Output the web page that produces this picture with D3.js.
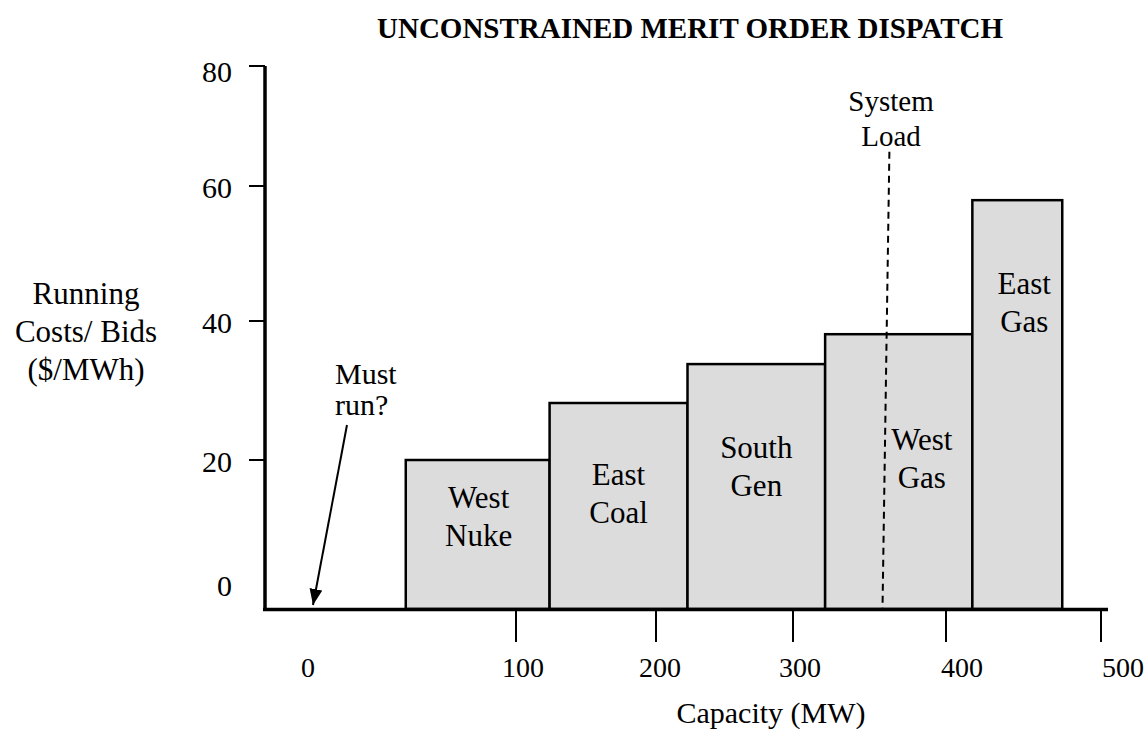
<!DOCTYPE html>
<html><head><meta charset="utf-8">
<script src="https://cdn.jsdelivr.net/npm/d3@7"></script>
<style>
body{margin:0;background:#fff}
svg{display:block}
text{font-family:"Liberation Serif","Times New Roman",serif;fill:#000}
</style>
</head><body>
<svg id="chart" width="1147" height="733"></svg>
<script>
// ---- data ----
const plants = ["West Nuke", "East Coal", "South Gen", "West Gas", "East Gas"];
const capStart = [47, 124, 223, 321, 417];      // MW
const capEnd = [124, 223, 321, 417, 475];       // MW
const bids = [20, 28.2, 33.8, 38.1, 57.9];      // $/MWh
const xTickValues = [100, 200, 300, 400, 500];
const xTickLabels = ["0", "100", "200", "300", "400", "500"];
const yTickValues = [20, 40, 60, 80];
const yTickLabels = ["0", "20", "40", "60", "80"];
const systemLoadMW = [363, 358.5];   // top, bottom of the (hand-drawn) load line
const systemLoadTop = 65.7;
const mustRunMW = 0;

// ---- layout ----
const svg = d3.select("#chart");
const x = d3.scaleLinear().domain([0, 100, 200, 300, 400, 500]).range([308, 516, 656, 793, 946, 1101]);
const y = d3.scaleLinear().domain([0, 20, 40, 60, 80]).range([609, 460, 321, 186, 66]);
const xLabelShift = [0, 7, 4, 7, 16, 22];
const labelOffsets = [[1, 37], [0, 71], [0, 83], [23, 105], [7, 83]]; // px from bar top-center
const axisY = 609.5, axisX = 265;
const FS = 30;

// title
svg.append("text").attr("x", 690).attr("y", 28).attr("dy", "0.35em")
  .attr("text-anchor", "middle").attr("font-weight", "bold").attr("font-size", 29)
  .text("UNCONSTRAINED MERIT ORDER DISPATCH");

// bars
const data = plants.map((p, i) => ({ p, s: capStart[i], e: capEnd[i], v: bids[i], off: labelOffsets[i] }));
svg.append("g").selectAll("rect").data(data).join("rect")
  .attr("x", d => x(d.s)).attr("y", d => y(d.v))
  .attr("width", d => x(d.e) - x(d.s)).attr("height", d => y(0) - y(d.v))
  .attr("fill", "#dcdcdc").attr("stroke", "#000").attr("stroke-width", 2.5);

// system load dashed line
svg.append("line")
  .attr("x1", x(systemLoadMW[0])).attr("x2", x(systemLoadMW[1]))
  .attr("y1", y(systemLoadTop)).attr("y2", y(0))
  .attr("stroke", "#000").attr("stroke-width", 2).attr("stroke-dasharray", "7,5");

// bar labels
const lg = svg.append("g");
data.forEach(d => {
  const cx = (x(d.s) + x(d.e)) / 2 + d.off[0];
  const cy = y(d.v) + d.off[1];
  d.p.split(" ").forEach((w, j) => {
    lg.append("text").attr("x", cx).attr("y", cy + j * 38).attr("dy", "0.35em")
      .attr("text-anchor", "middle").attr("font-size", 31).text(w);
  });
});

// axes lines
svg.append("line").attr("x1", axisX).attr("x2", axisX).attr("y1", y(80)).attr("y2", axisY + 1.5)
  .attr("stroke", "#000").attr("stroke-width", 3.5);
svg.append("line").attr("x1", axisX - 2).attr("x2", 1108).attr("y1", axisY).attr("y2", axisY)
  .attr("stroke", "#000").attr("stroke-width", 3.5);

// y ticks
svg.append("g").selectAll("line").data(yTickValues).join("line")
  .attr("x1", axisX - 16).attr("x2", axisX).attr("y1", d => y(d)).attr("y2", d => y(d))
  .attr("stroke", "#000").attr("stroke-width", 2);
svg.append("g").selectAll("text").data(yTickLabels).join("text")
  .attr("x", 232).attr("y", (d, i) => i === 0 ? y(0) - 24 : y(+d) + (i === 4 ? 5 : 1)).attr("dy", "0.35em")
  .attr("text-anchor", "end").attr("font-size", FS).text(d => d);

// x ticks
svg.append("g").selectAll("line").data(xTickValues).join("line")
  .attr("x1", d => x(d)).attr("x2", d => x(d)).attr("y1", axisY + 1.5).attr("y2", 642)
  .attr("stroke", "#000").attr("stroke-width", 2);
svg.append("g").selectAll("text").data(xTickLabels).join("text")
  .attr("x", (d, i) => x(+d) + xLabelShift[i]).attr("y", 667).attr("dy", "0.35em")
  .attr("text-anchor", "middle").attr("font-size", 28).text(d => d);

// axis titles
svg.append("text").attr("x", 771).attr("y", 712).attr("dy", "0.35em")
  .attr("text-anchor", "middle").attr("font-size", FS).text("Capacity (MW)");
["Running", "Costs/ Bids", "($/MWh)"].forEach((t, i) => {
  svg.append("text").attr("x", 86).attr("y", 293 + i * 38).attr("dy", "0.35em")
    .attr("text-anchor", "middle").attr("font-size", 31).text(t);
});

// system load label
["System", "Load"].forEach((t, i) => {
  svg.append("text").attr("x", 891).attr("y", 101 + i * 35).attr("dy", "0.35em")
    .attr("text-anchor", "middle").attr("font-size", 29).text(t);
});

// must run annotation
["Must", "run?"].forEach((t, i) => {
  svg.append("text").attr("x", 335).attr("y", 384 + i * 31)
    .attr("text-anchor", "start").attr("font-size", FS).text(t);
});
svg.append("defs").append("marker").attr("id", "arrow").attr("viewBox", "0 0 10 10")
  .attr("preserveAspectRatio", "none")
  .attr("refX", 10).attr("refY", 5).attr("markerWidth", 16).attr("markerHeight", 13)
  .attr("markerUnits", "userSpaceOnUse").attr("orient", "auto")
  .append("path").attr("d", "M0,0 L10,5 L0,10 z").attr("fill", "#000");
svg.append("line").attr("x1", 347).attr("y1", 425).attr("x2", x(mustRunMW) + 5).attr("y2", y(0) - 4)
  .attr("stroke", "#000").attr("stroke-width", 2).attr("marker-end", "url(#arrow)");
</script>
</body></html>
